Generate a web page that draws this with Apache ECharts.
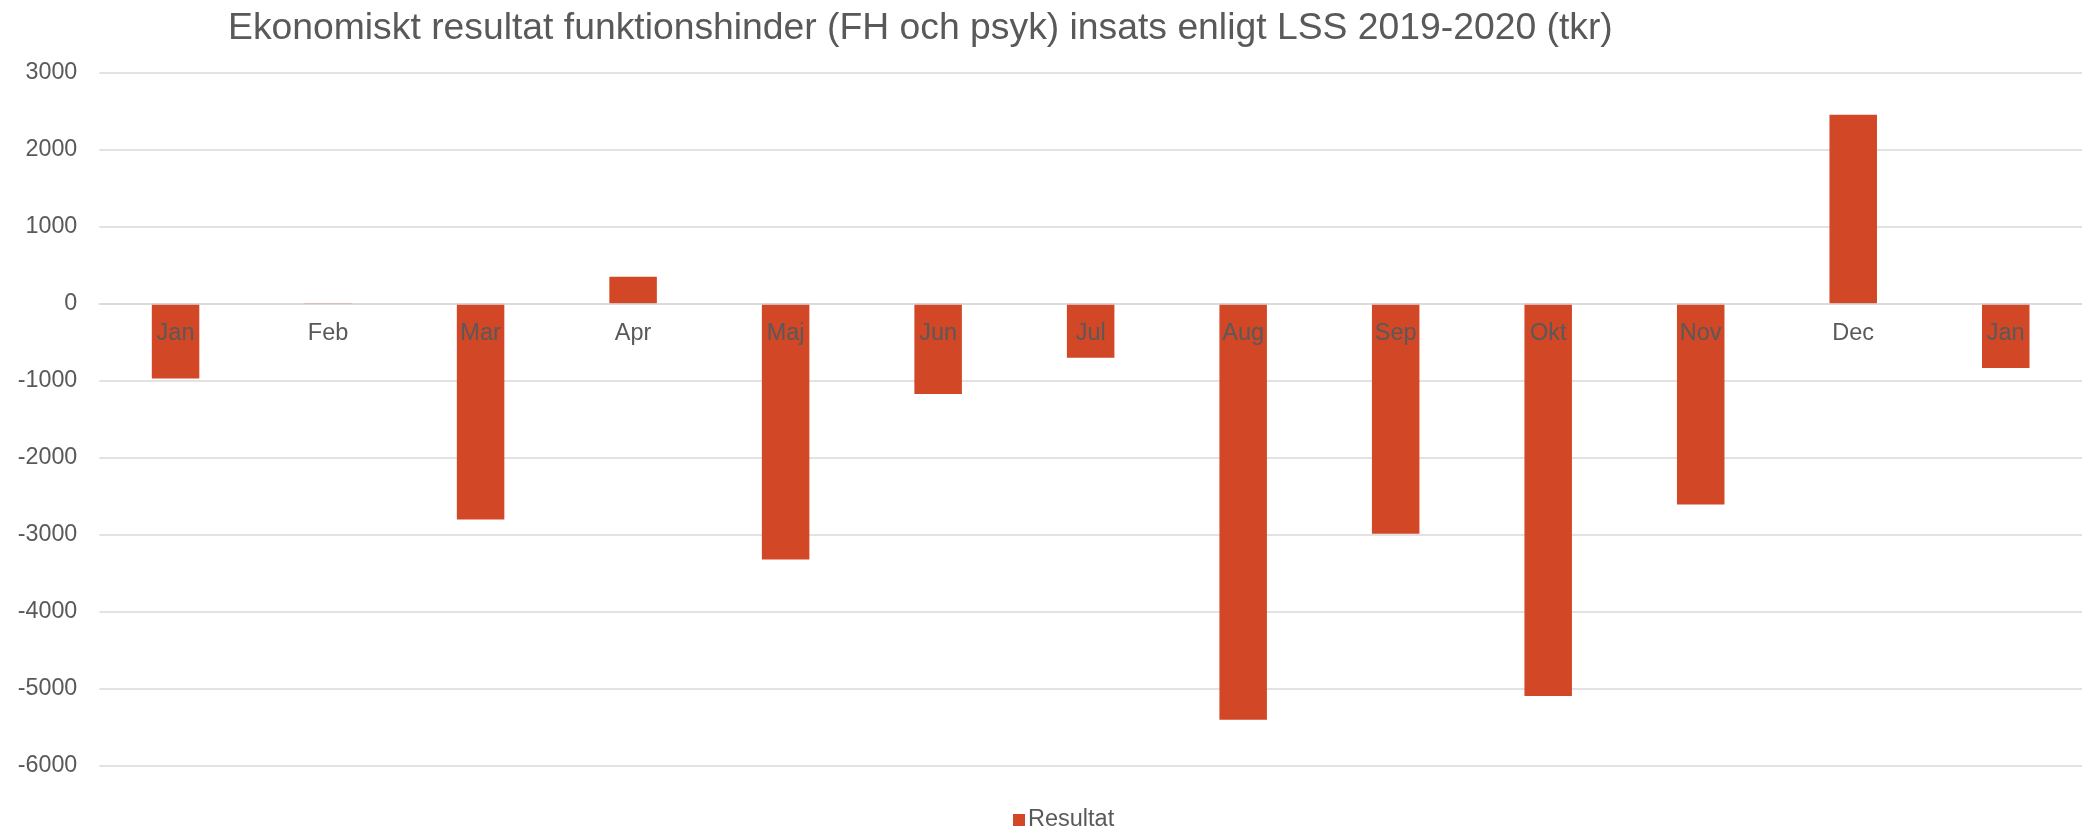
<!DOCTYPE html>
<html>
<head>
<meta charset="utf-8">
<script src="https://cdn.jsdelivr.net/npm/echarts@6/dist/echarts.min.js"></script>
<style>
html,body{margin:0;padding:0;background:#fff;}
#chart{width:2082px;height:828px;}
</style>
</head>
<body>
<div id="chart"></div>
<script>
const titleText = 'Ekonomiskt resultat funktionshinder (FH och psyk) insats enligt LSS 2019-2020 (tkr)';
const categories = ['Jan','Feb','Mar','Apr','Maj','Jun','Jul','Aug','Sep','Okt','Nov','Dec','Jan'];
const seriesName = 'Resultat';
const resultat = [-970, 10, -2800, 350, -3320, -1170, -700, -5400, -2985, -5090, -2605, 2455, -835];
const yMin = -6000, yMax = 3000, yStep = 1000;

const FONT = '"Liberation Sans", Arial, sans-serif';
const TXT = '#595959';
const GRID_TOP = 72.7, GRID_H = 693.3;
// place the category axis on the value-axis zero line
const zeroOffset = -((0 - yMin) / (yMax - yMin)) * GRID_H;

const chart = echarts.init(document.getElementById('chart'), null, {renderer:'canvas'});
chart.setOption({
  backgroundColor:'#ffffff',
  animation:false,
  title:{
    text:titleText,
    left:223, top:5,
    textStyle:{fontFamily:FONT, fontSize:37.3, fontWeight:'normal', color:TXT}
  },
  legend:{
    data:[seriesName],
    left:1008, top:803,
    itemWidth:12, itemHeight:12, itemGap:10,
    icon:'rect',
    textStyle:{fontFamily:FONT, fontSize:23.5, color:TXT, lineHeight:24, padding:[0,0,0,-2]}
  },
  grid:{left:99.3, top:GRID_TOP, width:1987, height:GRID_H, containLabel:false},
  xAxis:{
    type:'category',
    data:categories,
    position:'bottom',
    offset:zeroOffset,
    z:10,
    axisLine:{show:true, onZero:false, lineStyle:{color:'#D9D9D9', width:1.5}},
    axisTick:{show:false},
    axisLabel:{fontFamily:FONT, fontSize:23.5, color:TXT, margin:18, lineHeight:24, interval:0},
    splitLine:{show:false}
  },
  yAxis:{
    type:'value',
    min:yMin, max:yMax, interval:yStep,
    axisLine:{show:false},
    axisTick:{show:false},
    axisLabel:{fontFamily:FONT, fontSize:23.3, color:TXT, margin:22, formatter:function(v){return String(v);}},
    splitLine:{lineStyle:{color:'#D9D9D9', width:1.5}}
  },
  series:[{
    name:seriesName,
    type:'bar',
    data:resultat,
    barWidth:47.5,
    itemStyle:{color:'#D24726'}
  }]
});
</script>
</body>
</html>
